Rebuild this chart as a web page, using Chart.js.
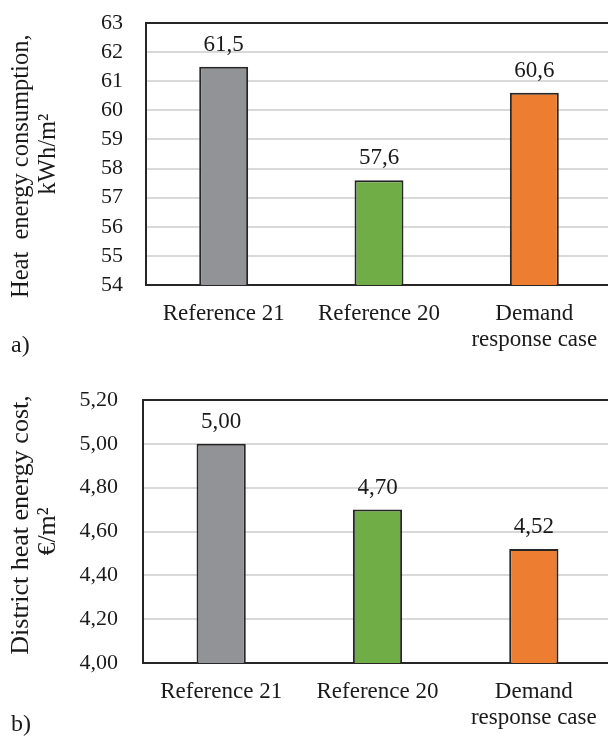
<!DOCTYPE html>
<html lang="en">
<head>
  <meta charset="UTF-8">
  <title>Heat energy consumption and district heat energy cost</title>
  <script src="https://cdn.jsdelivr.net/npm/chart.js"></script>
  <style>
    html, body { margin: 0; padding: 0; background: #fff; overflow: hidden; }
    body { width: 608px; height: 736px; position: relative; font-family: "Liberation Serif", "Times New Roman", serif; color: #1a1a1a; }
    .panel { position: absolute; left: 0; }
    .tag { position: absolute; left: 11px; font-size: 24px; line-height: 24px; }
  </style>
</head>
<body>
  <canvas id="chartHeat" class="panel" width="620" height="368" style="top:0"></canvas>
  <canvas id="chartCost" class="panel" width="620" height="368" style="top:368px"></canvas>
  <div class="tag" style="top:332px">a)</div>
  <div class="tag" style="top:711px">b)</div>

  <script>
    const categories = ['Reference 21', 'Reference 20', ['Demand', 'response case']];
    const heatValues = [61.5, 57.6, 60.6];
    const costValues = [5.00, 4.70, 4.52];
    const heatTicks = [54, 55, 56, 57, 58, 59, 60, 61, 62, 63];
    const costTicks = [4.00, 4.20, 4.40, 4.60, 4.80, 5.00, 5.20];

    const barColors = ['#929396', '#70ad47', '#ed7d31'];
    const ink = '#1a1a1a';
    const lineCol = '#262626';
    const serif = '"Liberation Serif", "Times New Roman", serif';

    Chart.defaults.font.family = serif;
    Chart.defaults.color = ink;

    const commaFmt = (v, d) => Number(v).toFixed(d).replace('.', ',');

    // value above each bar
    const barLabels = {
      id: 'barLabels',
      afterDatasetsDraw(chart, args, opts) {
        const ctx = chart.ctx;
        const ds = chart.data.datasets[0];
        ctx.save();
        ctx.font = '23px ' + serif;
        ctx.fillStyle = ink;
        ctx.textAlign = 'center';
        ctx.textBaseline = 'alphabetic';
        chart.getDatasetMeta(0).data.forEach((bar, i) => {
          ctx.fillText(commaFmt(ds.data[i], opts.digits), bar.x, bar.y - 16);
        });
        ctx.restore();
      }
    };

    function makeChart(id, values, ticks, cfg) {
      const lo = ticks[0], hi = ticks[ticks.length - 1];
      return new Chart(document.getElementById(id), {
        type: 'bar',
        data: {
          labels: categories,
          datasets: [{
            data: values,
            backgroundColor: barColors,
            borderColor: lineCol,
            borderWidth: 2,
            borderSkipped: false,
            barPercentage: 0.315,
            categoryPercentage: 1
          }]
        },
        options: {
          responsive: false,
          animation: false,
          devicePixelRatio: 1,
          layout: { padding: { top: cfg.top, right: 8, bottom: 0, left: 0 } },
          plugins: {
            legend: { display: false },
            tooltip: { enabled: false },
            barLabels: { digits: cfg.labelDigits }
          },
          scales: {
            x: {
              grid: { display: false, drawTicks: false },
              border: { display: true, color: lineCol, width: 2 },
              ticks: { font: { size: 23, lineHeight: 1.13 }, color: ink, padding: 16, maxRotation: 0, autoSkip: false },
              afterFit: s => { s.height = cfg.axisH; }
            },
            y: {
              min: lo,
              max: hi,
              afterBuildTicks: s => { s.ticks = ticks.map(v => ({ value: v })); },
              grid: {
                drawTicks: false,
                lineWidth: 2,
                color: c => (c.tick && (c.tick.value === lo || c.tick.value === hi)) ? lineCol : '#d9d9d9'
              },
              border: { display: true, color: lineCol, width: 2 },
              ticks: {
                font: { size: 22 }, color: ink, padding: cfg.tickPad, autoSkip: false,
                callback: v => commaFmt(v, cfg.tickDigits)
              },
              title: {
                display: true,
                text: cfg.title,
                color: ink,
                font: { size: cfg.titleSize, lineHeight: 27 / cfg.titleSize },
                padding: { top: 8, bottom: 0 }
              },
              afterFit: s => {
                s.width = cfg.left;
                // tick padding only pushes labels sideways here, not the plot down
                s.paddingTop = 0;
                s.paddingBottom = 0;
              }
            }
          }
        },
        plugins: [barLabels]
      });
    }

    makeChart('chartHeat', heatValues, heatTicks, {
      top: 23, axisH: 83, left: 146, tickPad: 23, tickDigits: 0, labelDigits: 1, titleSize: 24.5,
      title: ['Heat  energy consumption,    ', 'kWh/m²']
    });

    makeChart('chartCost', costValues, costTicks, {
      top: 32, axisH: 73, left: 143, tickPad: 25, tickDigits: 2, labelDigits: 2, titleSize: 26,
      title: ['  District heat energy cost,', '€/m²']
    });
  </script>
</body>
</html>
